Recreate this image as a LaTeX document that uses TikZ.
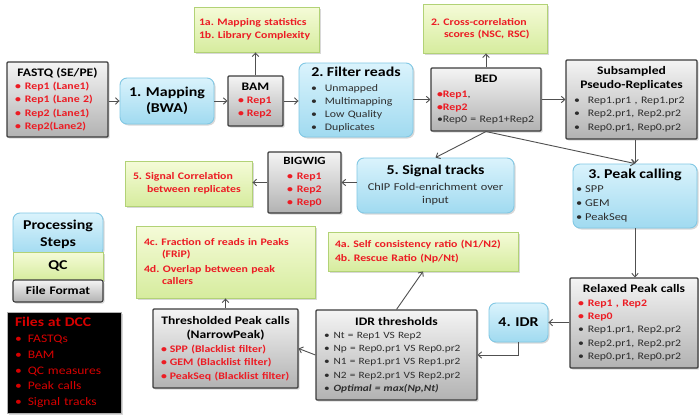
\documentclass[tikz,border=0pt]{standalone}
\usepackage{fontspec}
\setmainfont{Carlito}[FakeStretch=1.18]
\usetikzlibrary{arrows.meta,shadows}
\frenchspacing
\definecolor{rd}{RGB}{236,28,36}
\definecolor{dk}{RGB}{45,45,45}
\definecolor{dccred}{RGB}{215,0,0}
\definecolor{bluetop}{RGB}{218,243,252}
\definecolor{bluebot}{RGB}{160,218,240}
\definecolor{blueline}{RGB}{130,200,228}
\definecolor{greentop}{RGB}{245,251,216}
\definecolor{greenbot}{RGB}{214,236,158}
\definecolor{greenline}{RGB}{178,210,118}
\definecolor{graytop}{RGB}{244,244,244}
\definecolor{graybot}{RGB}{178,178,178}
\definecolor{grayline}{RGB}{60,60,60}
\definecolor{arrowgray}{RGB}{80,80,80}
\newcommand{\T}[2]{\makebox[\hsize][c]{\fontsize{#1}{#1}\selectfont\bfseries #2}}
\newcommand{\C}[1]{\makebox[\hsize][c]{\color{dk}#1}}
\newcommand{\rit}[3]{\hspace*{#1pt}\textcolor{rd}{\bfseries\textbullet\hspace{#2pt}#3}}
\newcommand{\git}[3]{\hspace*{#1pt}\textcolor{dk}{\textbullet\hspace{#2pt}#3}}
\newcommand{\R}[2]{\hspace*{#1pt}\textcolor{rd}{\bfseries #2}}
\newcommand{\bx}[7]{%
  \pgfmathsetmacro\bxw{#4-#2}\pgfmathsetmacro\bxh{#5-#3}%
  \pgfmathsetmacro\bxx{(#2+#4)/2}\pgfmathsetmacro\bxy{(#3+#5)/2}%
  \node[#6, minimum width=\bxw pt, minimum height=\bxh pt, text width=\bxw pt] (#1) at (\bxx,\bxy) {#7};}
\tikzset{
  basebox/.style={inner sep=0pt, align=left, execute at begin node={\noindent\frenchspacing},
    drop shadow={opacity=0.3, shadow xshift=1.5pt, shadow yshift=-1.5pt}},
  stepbox/.style={basebox, draw=blueline, line width=0.9pt, rounded corners=7pt,
    top color=bluetop, bottom color=bluebot},
  qcbox/.style={basebox, draw=greenline, line width=0.9pt,
    top color=greentop, bottom color=greenbot},
  filebox/.style={basebox, draw=grayline, line width=1.1pt, rounded corners=1pt,
    top color=graytop, bottom color=graybot},
  dccbox/.style={basebox, draw=graybot, line width=0.6pt, fill=black},
  conn/.style={draw=arrowgray, line width=0.9pt, -{Straight Barb[length=3.5pt,width=6.5pt]}}
}
\begin{document}
\begin{tikzpicture}[x=1pt,y=-1pt]
\fill[white] (0,0) rectangle (699,415);
\useasboundingbox (0,0) rectangle (699,415);

% top row
\bx{fastq}{7}{62}{108}{137}{filebox, font=\fontsize{10}{13.3}\selectfont}{%
\T{11.5}{FASTQ (SE/PE)}\\
\rit{8}{4}{Rep1 (Lane1)}\\
\rit{8}{4}{Rep1 (Lane 2)}\\
\rit{8}{4}{Rep2 (Lane1)}\\
\rit{8}{4}{Rep2(Lane2)}}

\bx{map}{120}{78}{214}{124}{stepbox, font=\fontsize{13.5}{16}\selectfont}{%
\T{13.5}{1. Mapping}\\
\T{13.5}{(BWA)}}

\bx{qc1}{194}{7}{319}{52}{qcbox, font=\fontsize{10}{12.5}\selectfont}{%
\R{5}{1a. Mapping statistics}\\
\R{5}{1b. Library Complexity}}

\bx{bam}{228}{76}{283}{126}{filebox, font=\fontsize{10}{13}\selectfont}{%
\T{11.5}{BAM}\\
\rit{10}{3}{Rep1}\\
\rit{10}{3}{Rep2}}

\bx{filt}{299}{63}{413}{137}{stepbox, font=\fontsize{10}{13}\selectfont}{%
\T{13.5}{2. Filter reads}\\[2pt]
\git{12}{8}{Unmapped}\\
\git{12}{8}{Multimapping}\\
\git{12}{8}{Low Quality}\\
\git{12}{8}{Duplicates}}

\bx{bed}{431}{68}{541}{131}{filebox, font=\fontsize{10}{12.5}\selectfont}{%
\T{11.5}{BED}\\[3pt]
\hspace*{6pt}\textcolor{rd}{\bfseries\textbullet Rep1}\textcolor{dk}{,}\\
\hspace*{6pt}\textcolor{rd}{\bfseries\textbullet Rep2}\\
\hspace*{6pt}\textcolor{dk}{\textbullet Rep0 = Rep1+Rep2}}

\bx{qc2}{423}{4}{547}{53}{qcbox, font=\fontsize{10}{12.5}\selectfont}{%
\R{8}{2. Cross-correlation}\\
\R{21}{scores (NSC, RSC)}}

\bx{sub}{566}{60}{697}{139}{filebox, font=\fontsize{10}{13.5}\selectfont}{%
\T{11.5}{Subsampled}\\[0.5pt]
\T{11.5}{Pseudo-Replicates}\\[1pt]
\git{8}{8}{Rep1.pr1 , Rep1.pr2}\\
\git{8}{8}{Rep2.pr1, Rep2.pr2}\\
\git{8}{8}{Rep0.pr1, Rep0.pr2}}

% middle row
\bx{bigwig}{268}{152}{341}{213}{filebox, font=\fontsize{10}{13}\selectfont}{%
\T{11}{BIGWIG}\\[2pt]
\rit{19}{4}{Rep1}\\
\rit{19}{4}{Rep2}\\
\rit{19}{4}{Rep0}}

\bx{qc5}{125}{161}{252}{206}{qcbox, font=\fontsize{10}{13}\selectfont}{%
\R{8}{5. Signal Correlation}\\
\R{22}{between replicates}}

\bx{sig}{357}{158}{514}{213}{stepbox, font=\fontsize{10.5}{13.5}\selectfont}{%
\T{13.5}{5. Signal tracks}\\[2pt]
\C{ChIP Fold-enrichment over}\\
\C{input}}

\bx{peak}{573}{164}{697}{228}{stepbox, font=\fontsize{10.5}{14}\selectfont}{%
\T{13.5}{3. Peak calling}\\
\git{3}{3}{SPP}\\
\git{3}{3}{GEM}\\
\git{3}{3}{PeakSeq}}

% legend
\bx{leg1}{13}{213}{103}{256}{stepbox, font=\fontsize{13.5}{17}\selectfont}{%
\T{13.5}{Processing}\\
\T{13.5}{Steps}}
\bx{leg2}{13}{252}{103}{280}{qcbox, rounded corners=0pt, font=\fontsize{13.5}{16}\selectfont}{%
\T{13.5}{QC}}
\bx{leg3}{13}{280}{103}{302}{filebox, rounded corners=2pt, font=\fontsize{11.5}{14}\selectfont}{%
\T{11.5}{File Format}}

\bx{dcc}{7}{312}{121}{413}{dccbox, font=\fontsize{11.5}{15.8}\selectfont}{%
\hspace*{8pt}\textcolor{dccred}{\fontsize{13.3}{15.8}\selectfont\bfseries Files at DCC}\\
\hspace*{8pt}\textcolor{dccred}{\textbullet\hspace{6pt}FASTQs}\\
\hspace*{8pt}\textcolor{dccred}{\textbullet\hspace{6pt}BAM}\\
\hspace*{8pt}\textcolor{dccred}{\textbullet\hspace{6pt}QC measures}\\
\hspace*{8pt}\textcolor{dccred}{\textbullet\hspace{6pt}Peak calls}\\
\hspace*{8pt}\textcolor{dccred}{\textbullet\hspace{6pt}Signal tracks}}

% lower part
\bx{qc4c}{136}{226}{315}{298}{qcbox, font=\fontsize{10}{12}\selectfont}{%
\R{8}{4c. Fraction of reads in Peaks}\\
\R{26}{(FRiP)}\\[3pt]
\R{8}{4d. Overlap between peak}\\
\R{26}{callers}}

\bx{qc4a}{328}{232}{518}{271}{qcbox, font=\fontsize{10}{14}\selectfont}{%
\R{7}{4a. Self consistency ratio (N1/N2)}\\
\R{7}{4b. Rescue Ratio (Np/Nt)}}

\bx{thr}{153}{309}{298}{388}{filebox, font=\fontsize{10}{13.5}\selectfont}{%
\T{11.5}{Thresholded Peak calls}\\[1pt]
\T{11.5}{(NarrowPeak)}\\
\rit{8}{3}{SPP (Blacklist filter)}\\
\rit{8}{3}{GEM (Blacklist filter)}\\
\rit{8}{3}{PeakSeq (Blacklist filter)}}

\bx{idrt}{316}{310}{477}{400}{filebox, font=\fontsize{9.6}{13.2}\selectfont}{%
\T{11.5}{IDR thresholds}\\
\git{8}{4}{Nt = Rep1 VS Rep2}\\
\git{8}{4}{Np = Rep0.pr1 VS Rep0.pr2}\\
\git{8}{4}{N1 = Rep1.pr1 VS Rep1.pr2}\\
\git{8}{4}{N2 = Rep2.pr1 VS Rep2.pr2}\\
\git{8}{4}{\bfseries\itshape Optimal = max(Np,Nt)}}

\bx{idr}{489}{303}{548}{342}{stepbox, font=\fontsize{13.5}{16}\selectfont}{%
\T{13.5}{4. IDR}}

\bx{relax}{570}{278}{698}{368}{filebox, font=\fontsize{10}{13.4}\selectfont}{%
\T{11.5}{Relaxed Peak calls}\\
\rit{8}{4}{Rep1 , Rep2}\\
\rit{8}{4}{Rep0}\\
\git{8}{4}{Rep1.pr1, Rep2.pr2}\\
\git{8}{4}{Rep2.pr1, Rep2.pr2}\\
\git{8}{4}{Rep0.pr1, Rep0.pr2}}

% connectors
\draw[conn] (fastq.east |- map.west) -- (map.west);
\draw[conn] (map.east) -- (map.east -| bam.west);
\draw[conn] (bam.north) -- (bam.north |- qc1.south);
\draw[conn] (bam.east) -- (bam.east -| filt.west);
\draw[conn] (filt.east |- bed.west) -- (bed.west);
\draw[conn] (bed.north) -- (bed.north |- qc2.south);
\draw[conn] (bed.east) -- (bed.east -| sub.west);
\draw[conn] (bed.south) -- (sig.north);
\draw[conn] (bed.south) -- (peak.north);
\draw[conn] (peak.north |- sub.south) -- (peak.north);
\draw[conn] (sig.west |- bigwig.east) -- (bigwig.east);
\draw[conn] (bigwig.west) -- (bigwig.west -| qc5.east);
\draw[conn] (peak.south) -- (peak.south |- relax.north);
\draw[conn] (relax.west |- idr.east) -- (idr.east);
\draw[conn] (idr.south) |- (idrt.east);
\draw[conn] (idrt.west) -- (thr.east);
\draw[conn] (idrt.north) -- (qc4a.south);
\draw[conn] (thr.north) -- (thr.north |- qc4c.south);
\end{tikzpicture}
\end{document}
